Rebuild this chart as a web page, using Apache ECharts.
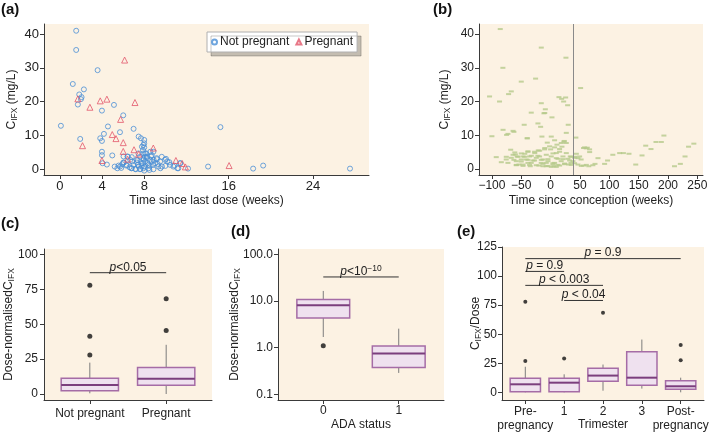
<!DOCTYPE html>
<html>
<head>
<meta charset="utf-8">
<script src="https://cdn.jsdelivr.net/npm/echarts@6/dist/echarts.min.js"></script>
<style>
html, body { margin: 0; padding: 0; background: #fff; }
#chart { width: 709px; height: 432px; }
</style>
</head>
<body>
<div id="chart"></div>
<script>
// (a) concentration vs time since last dose: [weeks, mg/L]
var aNotPregnant = [
  [1.55, 41], [1.55, 35.3], [3.58, 29.3], [1.23, 25.2], [2.28, 23.6], [1.84, 22.1], [2.06, 21.3], [2.0, 20.7],
  [1.71, 19.1], [5.13, 19.0], [3.99, 17.3], [6.01, 15.9], [0.1, 12.8], [4.56, 12.6], [6.99, 11.9], [15.22, 12.4],
  [5.7, 10.9], [4.18, 10.4], [1.93, 8.9], [3.83, 9.1], [3.99, 8.3], [7.47, 9.6], [7.69, 9.1], [8.0, 8.6],
  [7.92, 7.1], [8.0, 7.6], [7.78, 6.6], [8.0, 6.4], [7.88, 5.6], [7.92, 4.6], [3.99, 5.1], [3.99, 4.1],
  [4.97, 4.0], [4.05, 1.7], [4.46, 1.3], [5.57, 1.0], [5.7, 0.7], [5.82, 0.3], [5.92, 1.4], [6.04, 3.7],
  [6.42, 3.7], [6.08, 1.9], [6.3, 1.0], [6.68, 2.7], [6.77, 0.2], [7.15, 0], [6.84, 2.2], [7.37, 2.6],
  [7.63, 0], [7.75, 0.9], [8.07, 3.7], [7.94, 2.7], [7.88, 1.7], [8.0, 0.7], [8.0, -0.5], [8.2, 4.6],
  [8.26, 3.2], [8.32, 1.7], [8.42, 0.2], [8.58, 5.1], [8.64, 3.7], [8.73, 2.2], [8.83, 1.2], [8.89, 2.7],
  [9.2, 2.9], [9.27, 1.5], [9.53, 0.2], [9.68, 0.7], [10.06, 3.0], [10.0, 0.9], [10.38, 2.0], [10.85, 1.0],
  [11.23, 0.2], [11.42, 1.7], [12.15, 0.1], [14.05, 0.7], [18.32, 0.1], [19.27, 1.0], [27.5, 0.1], [7.47, 0.7],
  [6.99, 1.2], [7.3, 1.9], [8.5, 0.9], [6.02, 1.9], [6.34, 1.2], [6.43, 3.6], [6.82, 3.5], [7.29, 2.7],
  [6.82, 0.2], [7.2, -0.1], [7.6, -0.1], [7.92, 0.2], [7.76, 1.7], [7.4, 1.2], [8.08, 4.6], [8.24, 3.6],
  [7.92, 3.1], [8.08, 2.2], [8.39, 1.2], [8.55, 2.7], [8.71, 4.1], [8.87, 5.1], [9.02, 1.7], [9.18, 3.2],
  [9.34, 0.7], [9.5, 2.2], [9.66, 3.6], [9.97, 2.7], [10.19, 2.2], [10.45, 1.2], [10.76, 0.7], [11.14, 0.2],
  [11.39, 1.7], [8.49, -0.3], [8.87, -0.1], [7.45, 4.6], [7.6, 3.6], [5.2, 0.7], [5.45, 0.2], [6.6, 0.5]
]
var aPregnant = [
  [6.14, 32.3], [1.71, 20.8], [3.83, 20.2], [4.46, 20.7], [7.12, 19.7], [2.85, 18.3], [5.76, 14.7],
  [4.97, 10.2], [5.32, 9.0], [6.01, 7.8], [2.15, 6.9], [6.01, 5.2], [7.03, 5.7], [8.86, 6.2], [7.47, 4.4],
  [6.42, 2.9], [3.99, 2.5], [11.0, 2.5], [11.6, 1.6], [11.9, 0.6], [16.04, 1.0]
]
var aXLabels = [0, 4, 8, 16, 24]
var aXTicks = [0, 2, 4, 8, 16, 24]
var concTicks = [0, 10, 20, 30, 40]

// (b) concentration vs time since conception: [weeks, mg/L]
var bPoints = [
  [-85.8, 41.5], [-15.9, 36], [26.1, 33], [-81.3, 30], [-25.6, 26.8], [-50, 25.9], [51.1, 24], [-67, 23],
  [-71.6, 22.2], [-104, 21.5], [14.2, 21.3], [18.8, 20.8], [25.6, 21.2], [22.2, 20], [-87, 20], [-15.9, 19.5],
  [29, 18.9], [-9, 17.7], [-10, 16.6], [-33, 16.7], [2.3, 15.3], [-45, 13.1], [-21.6, 13.5], [-17, 12.5],
  [30, 13.1], [-81, 11.6], [-64, 11.3], [26.7, 10.7], [-100, 9.7], [-75, 10.1], [-40, 9.1], [-14.8, 9.6],
  [1.1, 9.6], [43, 9.3], [6.8, 8.5], [23.3, 8.3], [18.2, 7.7], [10.8, 7.2], [26.7, 7.7], [162, 6.9],
  [188.6, 8], [179.5, 8], [193, 9.9], [235, 6.6], [244, 7.5], [171, 5.9], [155.7, 4], [145, 1.3],
  [117.6, 4.7], [124, 4.7], [133.5, 4.5], [106, 4.2], [97, 2.5], [92, 1.5], [80.7, 3.2], [75.6, 1.5],
  [66.5, 5], [60.8, 6.1], [56, 6.2], [62.5, 6.3], [49.4, 3.7], [52, 2.8], [229, 3.7], [221, 1.5],
  [211, 0.8], [43.8, 4.5], [41, 3.3], [38, 2.3], [34.7, 1.8], [46.6, 1.3], [56, 1.0], [65, 0.8], [72, 1.1],
  [-92.6, 3.5], [-84, 2], [-72.7, 1.8], [-67, 3.3], [-64, 4.2], [-68, 5.7], [-61, 4.9], [-57, 3.7],
  [-54, 1.3], [-50, 2.8], [-47, 3.7], [-44, 4.5], [-41.5, 2.8], [-38.6, 5.2], [-35.8, 3.7], [-33, 1.8],
  [-30, 2.5], [-27, 4.7], [-24.4, 3.3], [-21, 5.5], [-18.8, 3.7], [-16, 1.8], [-13, 2.8], [-10, 6.2],
  [-7.4, 4.2], [-4.5, 2.3], [-1.7, 6.7], [1.1, 3.7], [4, 1.3], [6.8, 1.8], [9.7, 4.7], [12.5, 3],
  [15.3, 5.9], [18, 2.3], [21, 3.7], [23.9, 1.6], [26.7, 4.7], [29.5, 3], [31, 1.3], [33.5, 3.7],
  [-47, 1.3], [-58.5, 1.1], [-24.4, 1.1], [-7.4, 0.8], [5.7, 0.8], [15.3, 1], [-38.6, 1.8], [-75.6, 2.8],
  [-58.5, 2.3], [-13, 0.8], [9.7, 0.6], [-34.7, 0.8], [-20, 1], [-7.4, 1.8], [1.1, 0.6],
  [-11.4, 16.5], [-72.7, 10.4], [-62.5, 11], [-39.7, 9.1], [22.7, 8.1], [-5.7, 7.8], [6.8, 6.4], [19.3, 6.6],
  [0, 5.8], [-10.2, 5.8], [-18.7, 5.4], [-27.3, 5.1], [-38.7, 5.1], [-50, 4.6], [-60, 4.3], [-75.5, 3.6],
  [-55.7, 3.6], [-44.3, 3.6], [-32.9, 3.9], [-21.6, 3.9], [4, 4.6], [15.3, 5.1], [35.3, 3.6], [-62.5, 2.7],
  [-50, 2.2], [-38.7, 2.7], [-27.3, 2.5], [-15.9, 2.7], [-4.5, 2.9], [9.7, 3.2], [21, 2.9], [32.4, 2.5],
  [40.9, 3.6], [46.6, 3.2], [-58.4, 1.2], [-47, 0.9], [-35.8, 1.2], [-13, 1.5], [-4.5, 0.9], [4, 1.7],
  [12.5, 1.2], [23.9, 1.4], [35.3, 1.2], [40.9, 1.7], [52.3, 0.9], [60.8, 1.2], [57.9, 6.4], [66.4, 5.8]
]
var bXLabels = [-100, -50, 0, 50, 100, 150, 200, 250]
var bConception = 38

// (c) box stats: [x, low whisker, Q1, median, Q3, high whisker]
var cLabels = ['Not pregnant', 'Pregnant']
var cBoxes = [[1, 0.5, 2.4, 6.5, 11.3, 22.5], [2, 0, 6.2, 11, 19, 35.3]]
var cOutliers = [[1, 78], [1, 41.5], [1, 28], [2, 68.3], [2, 45.6]]
var cBrackets = [[1, 2, 87]]
var cBracketText = ['{i|p}{n|<0.05}']
var cYTicks = [0, 25, 50, 75, 100]

// (d) log scale box stats by ADA status
var dLabels = ['0', '1']
var dBoxes = [[0, 1.69, 4.33, 8.05, 10.7, 16.4], [1, 0.287, 0.373, 0.745, 1.09, 2.55]]
var dOutliers = [[0, 1.1]]
var dBrackets = [[0, 1, 32.7]]
var dBracketText = ['{i|p}{n|<10}{s|\u221210}']
var dYTicks = [0.1, 1, 10, 100]

// (e) C/Dose by trimester
var eLabels = ['Pre-\npregnancy', '1', '2', '3', 'Post-\npregnancy']
var eBoxes = [
  [1, 0, 0.6, 6.9, 12.1, 22], [2, 0, 0.6, 8.3, 12.1, 15.5], [3, 1.4, 9.5, 14.4, 20.7, 23.9],
  [4, 3.2, 6, 12.6, 35, 45.4], [5, 0, 2.6, 5.2, 10, 12.6]
]
var eOutliers = [[1, 77.9], [1, 27], [2, 29], [3, 68.4], [5, 40.8], [5, 27.6]]
var eBrackets = [[1, 5, 115], [1, 2, 104], [1, 3, 92], [2, 3, 79]]
var eBracketText = ['{i|p}{n| = 0.9}', '{i|p}{n| = 0.9}', '{i|p}{n| < 0.003}', '{i|p}{n| < 0.04}']
var eYTicks = [0, 25, 50, 75, 100, 125]

var FONT = 'Liberation Sans, Arial, Helvetica, sans-serif'
var BG = '#fcf2e3'
var AXIS = '#3a3a3a'

// rich text for C_IFX style names
var subRich = {
  n: { fontSize: 12, fontFamily: FONT, color: '#222', lineHeight: 15 },
  s: { fontSize: 8.5, fontFamily: FONT, color: '#222', lineHeight: 9, verticalAlign: 'bottom' }
}
var pRich = {
  i: { fontSize: 12, fontFamily: FONT, fontStyle: 'italic', fill: '#222', color: '#222', lineHeight: 15 },
  n: { fontSize: 12, fontFamily: FONT, fill: '#222', color: '#222', lineHeight: 15 },
  s: { fontSize: 8.5, fontFamily: FONT, fill: '#222', color: '#222', lineHeight: 9, verticalAlign: 'top' }
}

function valueAxis (grid, min, max, labels, ticks, fmt, extra) {
  var ax = {
    type: 'value',
    gridIndex: grid,
    min: min,
    max: max,
    splitLine: { show: false },
    axisLine: { show: true, onZero: false, lineStyle: { color: AXIS, width: 1 } },
    axisTick: { show: true, length: 4, customValues: ticks || labels, lineStyle: { color: AXIS } },
    axisLabel: { customValues: labels, color: '#222', fontSize: 12, margin: 6, fontFamily: FONT, formatter: fmt },
    nameLocation: 'middle',
    nameMoveOverlap: false,
    nameTextStyle: { color: '#222', fontSize: 12, fontFamily: FONT }
  }
  for (var k in extra) {
    if (typeof extra[k] === 'object' && ax[k] && !Array.isArray(extra[k])) {
      Object.assign(ax[k], extra[k])
    } else {
      ax[k] = extra[k]
    }
  }
  return ax
}

function boxRenderer (half) {
  return function (params, api) {
    var x = api.value(0)
    var left = api.coord([x - half, api.value(3)])[0]
    var right = api.coord([x + half, api.value(3)])[0]
    var cx = api.coord([x, api.value(3)])[0]
    var lo = api.coord([x, api.value(1)])[1]
    var q1 = api.coord([x, api.value(2)])[1]
    var md = api.coord([x, api.value(3)])[1]
    var q3 = api.coord([x, api.value(4)])[1]
    var hi = api.coord([x, api.value(5)])[1]
    return {
      type: 'group',
      children: [
        { type: 'line', shape: { x1: cx, y1: lo, x2: cx, y2: q1 }, style: { stroke: '#7c7c7c', lineWidth: 1 } },
        { type: 'line', shape: { x1: cx, y1: q3, x2: cx, y2: hi }, style: { stroke: '#7c7c7c', lineWidth: 1 } },
        { type: 'rect', shape: { x: left, y: q3, width: right - left, height: q1 - q3 }, style: { fill: '#efe1ef', stroke: '#a56ca6', lineWidth: 1.5 } },
        { type: 'line', shape: { x1: left, y1: md, x2: right, y2: md }, style: { stroke: '#7b3e7d', lineWidth: 2 } }
      ]
    }
  }
}

function bracketRenderer (texts) {
  return function (params, api) {
    var p1 = api.coord([api.value(0), api.value(2)])
    var p2 = api.coord([api.value(1), api.value(2)])
    return {
      type: 'group',
      children: [
        { type: 'line', shape: { x1: p1[0], y1: p1[1], x2: p2[0], y2: p2[1] }, style: { stroke: '#333', lineWidth: 1 } },
        {
          type: 'text',
          x: (p1[0] + p2[0]) / 2,
          y: p1[1] + 2,
          style: { text: texts[params.dataIndex], align: 'center', verticalAlign: 'bottom', fontSize: 12, fontFamily: FONT, fill: '#222', rich: pRich }
        }
      ]
    }
  }
}

function gridBox (left, top, width, height) {
  return { left: left, top: top, width: width, height: height, show: true, backgroundColor: BG, borderWidth: 0, containLabel: false, outerBoundsMode: 'none' }
}

var myChart = echarts.init(document.getElementById('chart'), null, { renderer: 'canvas' })

myChart.setOption({
  animation: false,
  textStyle: { fontFamily: FONT },
  grid: [
    gridBox(44, 24, 325, 151),
    gridBox(479, 24, 224, 151),
    gridBox(44, 249, 168, 151),
    gridBox(278, 249, 166, 151),
    gridBox(502, 247, 202, 153)
  ],
  legend: {
    data: ['Not pregnant', 'Pregnant'],
    left: 207,
    top: 32,
    orient: 'horizontal',
    padding: [4, 4, 4, 4],
    itemGap: 6,
    itemWidth: 5,
    itemHeight: 5,
    backgroundColor: '#fff',
    borderColor: '#b0b0b0',
    borderWidth: 1,
    shadowColor: 'rgba(0,0,0,0.22)',
    shadowOffsetX: 4,
    shadowOffsetY: 4,
    shadowBlur: 0,
    textStyle: { fontSize: 12, color: '#222', fontFamily: FONT, padding: [0, 0, 0, -2] }
  },
  graphic: [
    { type: 'text', left: 1, top: 2, style: { text: '(a)', fontSize: 15, fontWeight: 'bold', fontFamily: FONT, fill: '#111' } },
    { type: 'text', left: 433, top: 2, style: { text: '(b)', fontSize: 15, fontWeight: 'bold', fontFamily: FONT, fill: '#111' } },
    { type: 'text', left: 1, top: 216, style: { text: '(c)', fontSize: 15, fontWeight: 'bold', fontFamily: FONT, fill: '#111' } },
    { type: 'text', left: 231, top: 224, style: { text: '(d)', fontSize: 15, fontWeight: 'bold', fontFamily: FONT, fill: '#111' } },
    { type: 'text', left: 457, top: 224, style: { text: '(e)', fontSize: 15, fontWeight: 'bold', fontFamily: FONT, fill: '#111' } }
  ],
  xAxis: [
    valueAxis(0, -1.5, 29.3, aXLabels, aXTicks, null, {
      name: 'Time since last dose (weeks)', nameGap: 20,
      axisLabel: { fontSize: 13, margin: 5 }
    }),
    valueAxis(1, -122, 259.6, bXLabels, null, function (v) { return v < 0 ? '\u2212' + (-v) : String(v) }, {
      name: 'Time since conception (weeks)', nameGap: 20,
      axisLabel: { margin: 5 }
    }),
    valueAxis(2, 0.4, 2.6, [1, 2], null, function (v) { return cLabels[v - 1] }, {
      axisLabel: { margin: 8 }
    }),
    valueAxis(3, -0.6, 1.6, [0, 1], null, function (v) { return dLabels[v] }, {
      name: 'ADA status', nameGap: 19,
      axisLabel: { margin: 5 }
    }),
    valueAxis(4, 0.4, 5.6, [1, 2, 3, 4, 5], null, function (v) { return eLabels[v - 1] }, {
      name: 'Trimester', nameGap: 19,
      axisLabel: { margin: 5, lineHeight: 14 }
    })
  ],
  yAxis: [
    valueAxis(0, -1.8, 43, concTicks, null, null, {
      name: '{n|C}{s|IFX}{n| (mg/L)}', nameGap: 25,
      nameTextStyle: { rich: subRich },
      axisLabel: { fontSize: 13, margin: 5 }
    }),
    valueAxis(1, -1.8, 43, concTicks, null, null, {
      name: '{n|C}{s|IFX}{n| (mg/L)}', nameGap: 27,
      nameTextStyle: { rich: subRich },
      axisLabel: { margin: 5 }
    }),
    valueAxis(2, -4.3, 104, cYTicks, null, null, {
      name: '{n|Dose-normalisedC}{s|IFX}', nameGap: 28,
      nameTextStyle: { rich: subRich },
      axisLabel: { margin: 6 }
    }),
    valueAxis(3, 0.0755, 129.9, dYTicks, null, function (v) { return Number(v).toFixed(1) }, {
      type: 'log', logBase: 10,
      name: '{n|Dose-normalisedC}{s|IFX}', nameGap: 36,
      nameTextStyle: { rich: subRich },
      axisLabel: { margin: 5 }
    }),
    valueAxis(4, -6.6, 125, eYTicks, null, null, {
      name: '{n|C}{s|IFX}{n|/Dose}', nameGap: 19,
      nameTextStyle: { rich: subRich },
      axisLabel: { margin: 5 }
    })
  ],
  series: [
    {
      name: 'Not pregnant',
      type: 'scatter',
      xAxisIndex: 0,
      yAxisIndex: 0,
      symbol: 'circle',
      symbolSize: 5,
      itemStyle: { color: 'rgba(0,0,0,0)', borderColor: '#4a8fd6', borderWidth: 1 },
      data: aNotPregnant
    },
    {
      name: 'Pregnant',
      type: 'scatter',
      xAxisIndex: 0,
      yAxisIndex: 0,
      symbol: 'triangle',
      symbolSize: 6,
      itemStyle: { color: 'rgba(0,0,0,0)', borderColor: '#e2566a', borderWidth: 1 },
      data: aPregnant
    },
    {
      type: 'scatter',
      xAxisIndex: 1,
      yAxisIndex: 1,
      symbol: 'rect',
      symbolSize: [5, 2],
      itemStyle: { color: '#b5c98b' },
      data: bPoints,
      markLine: {
        silent: true,
        symbol: ['none', 'none'],
        label: { show: false },
        lineStyle: { color: '#8a8a8a', width: 1, type: 'solid' },
        data: [{ xAxis: bConception }]
      }
    },
    { type: 'custom', xAxisIndex: 2, yAxisIndex: 2, renderItem: boxRenderer(0.375), encode: { x: 0, y: [1, 2, 3, 4, 5] }, data: cBoxes },
    { type: 'scatter', xAxisIndex: 2, yAxisIndex: 2, symbolSize: 5, itemStyle: { color: '#111' }, data: cOutliers },
    { type: 'custom', xAxisIndex: 2, yAxisIndex: 2, renderItem: bracketRenderer(cBracketText), encode: { x: [0, 1], y: 2 }, data: cBrackets },
    { type: 'custom', xAxisIndex: 3, yAxisIndex: 3, renderItem: boxRenderer(0.35), encode: { x: 0, y: [1, 2, 3, 4, 5] }, data: dBoxes },
    { type: 'scatter', xAxisIndex: 3, yAxisIndex: 3, symbolSize: 5, itemStyle: { color: '#111' }, data: dOutliers },
    { type: 'custom', xAxisIndex: 3, yAxisIndex: 3, renderItem: bracketRenderer(dBracketText), encode: { x: [0, 1], y: 2 }, data: dBrackets },
    { type: 'custom', xAxisIndex: 4, yAxisIndex: 4, renderItem: boxRenderer(0.39), encode: { x: 0, y: [1, 2, 3, 4, 5] }, data: eBoxes },
    { type: 'scatter', xAxisIndex: 4, yAxisIndex: 4, symbolSize: 4, itemStyle: { color: '#111' }, data: eOutliers },
    { type: 'custom', xAxisIndex: 4, yAxisIndex: 4, renderItem: bracketRenderer(eBracketText), encode: { x: [0, 1], y: 2 }, data: eBrackets }
  ]
})
</script>
</body>
</html>
